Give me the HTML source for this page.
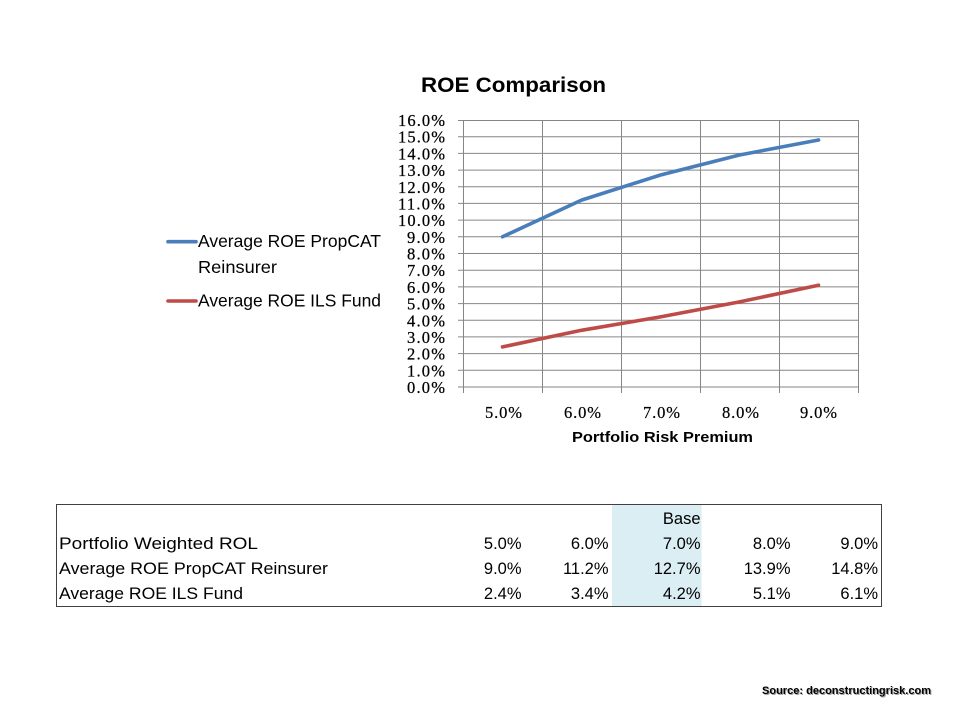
<!DOCTYPE html>
<html>
<head>
<meta charset="utf-8">
<style>
  html, body { margin:0; padding:0; background:#ffffff; }
  svg { display:block; }
</style>
</head>
<body>
<svg width="960" height="720" viewBox="0 0 960 720" xmlns="http://www.w3.org/2000/svg">
  <rect x="0" y="0" width="960" height="720" fill="#ffffff"/>

  <!-- Title -->
  <text x="421" y="92" font-family="Liberation Sans, sans-serif" font-weight="bold" font-size="21" fill="#000" textLength="185" lengthAdjust="spacingAndGlyphs">ROE Comparison</text>

  <!-- Gridlines horizontal (with left tick marks) -->
  <g stroke="#868686" stroke-width="1" fill="none">
    <line x1="458" y1="120.5" x2="858.5" y2="120.5"/>
    <line x1="458" y1="136.7" x2="858.5" y2="136.7"/>
    <line x1="458" y1="153.4" x2="858.5" y2="153.4"/>
    <line x1="458" y1="170.1" x2="858.5" y2="170.1"/>
    <line x1="458" y1="186.8" x2="858.5" y2="186.8"/>
    <line x1="458" y1="203.4" x2="858.5" y2="203.4"/>
    <line x1="458" y1="220.1" x2="858.5" y2="220.1"/>
    <line x1="458" y1="236.8" x2="858.5" y2="236.8"/>
    <line x1="458" y1="253.5" x2="858.5" y2="253.5"/>
    <line x1="458" y1="270.2" x2="858.5" y2="270.2"/>
    <line x1="458" y1="286.9" x2="858.5" y2="286.9"/>
    <line x1="458" y1="303.6" x2="858.5" y2="303.6"/>
    <line x1="458" y1="320.3" x2="858.5" y2="320.3"/>
    <line x1="458" y1="336.9" x2="858.5" y2="336.9"/>
    <line x1="458" y1="353.6" x2="858.5" y2="353.6"/>
    <line x1="458" y1="370.3" x2="858.5" y2="370.3"/>
    <line x1="458" y1="387" x2="858.5" y2="387"/>
    <!-- vertical gridlines extending as ticks -->
    <line x1="463.5" y1="120" x2="463.5" y2="393"/>
    <line x1="542.5" y1="120" x2="542.5" y2="393"/>
    <line x1="621.5" y1="120" x2="621.5" y2="393"/>
    <line x1="700.5" y1="120" x2="700.5" y2="393"/>
    <line x1="779.5" y1="120" x2="779.5" y2="393"/>
    <line x1="858.5" y1="120" x2="858.5" y2="393"/>
  </g>

  <!-- Y axis labels -->
  <g font-family="Liberation Serif, serif" font-size="16.5" fill="#000" stroke="#000" stroke-width="0.25" text-anchor="end" lengthAdjust="spacingAndGlyphs">
    <text x="445" y="126" textLength="47">16.0%</text>
    <text x="445" y="142.7" textLength="47">15.0%</text>
    <text x="445" y="159.4" textLength="47">14.0%</text>
    <text x="445" y="176.1" textLength="47">13.0%</text>
    <text x="445" y="192.8" textLength="47">12.0%</text>
    <text x="445" y="209.4" textLength="47">11.0%</text>
    <text x="445" y="226.1" textLength="47">10.0%</text>
    <text x="445" y="242.8" textLength="38">9.0%</text>
    <text x="445" y="259.5" textLength="38">8.0%</text>
    <text x="445" y="276.2" textLength="38">7.0%</text>
    <text x="445" y="292.9" textLength="38">6.0%</text>
    <text x="445" y="309.6" textLength="38">5.0%</text>
    <text x="445" y="326.3" textLength="38">4.0%</text>
    <text x="445" y="342.9" textLength="38">3.0%</text>
    <text x="445" y="359.6" textLength="38">2.0%</text>
    <text x="445" y="376.3" textLength="38">1.0%</text>
    <text x="445" y="393" textLength="38">0.0%</text>
  </g>

  <!-- X axis labels -->
  <g font-family="Liberation Serif, serif" font-size="16.5" fill="#000" stroke="#000" stroke-width="0.2" lengthAdjust="spacingAndGlyphs">
    <text x="485" y="418" textLength="37">5.0%</text>
    <text x="564" y="418" textLength="37">6.0%</text>
    <text x="643" y="418" textLength="37">7.0%</text>
    <text x="722" y="418" textLength="37">8.0%</text>
    <text x="800" y="418" textLength="37">9.0%</text>
  </g>

  <!-- X axis title -->
  <text x="572" y="442" font-family="Liberation Sans, sans-serif" font-weight="bold" font-size="14.5" fill="#000" textLength="181" lengthAdjust="spacingAndGlyphs">Portfolio Risk Premium</text>

  <!-- Series -->
  <polyline points="502.5,236.8 581.5,200.1 660.5,175 739.5,155 818.5,140" fill="none" stroke="#4a7ebb" stroke-width="3.6" stroke-linejoin="round" stroke-linecap="round"/>
  <polyline points="502.5,346.9 581.5,330.3 660.5,316.9 739.5,301.9 818.5,285.2" fill="none" stroke="#be4b48" stroke-width="3.6" stroke-linejoin="round" stroke-linecap="round"/>

  <!-- Legend -->
  <line x1="168" y1="241.7" x2="196" y2="241.7" stroke="#4a7ebb" stroke-width="3.6" stroke-linecap="round"/>
  <line x1="168" y1="301" x2="196" y2="301" stroke="#be4b48" stroke-width="3.6" stroke-linecap="round"/>
  <g font-family="Liberation Sans, sans-serif" font-size="17.5" fill="#000">
    <text x="198" y="247" textLength="183" lengthAdjust="spacingAndGlyphs">Average ROE PropCAT</text>
    <text x="198" y="273" textLength="79" lengthAdjust="spacingAndGlyphs">Reinsurer</text>
    <text x="198" y="306.5" textLength="183" lengthAdjust="spacingAndGlyphs">Average ROE ILS Fund</text>
  </g>

  <!-- Table -->
  <rect x="612" y="504" width="89.5" height="103" fill="#daeef3"/>
  <g stroke="#404040" stroke-width="1" fill="none">
    <line x1="56" y1="504.5" x2="882" y2="504.5"/>
    <line x1="56" y1="606.5" x2="882" y2="606.5"/>
    <line x1="56.5" y1="504" x2="56.5" y2="607"/>
    <line x1="881.5" y1="504" x2="881.5" y2="607"/>
  </g>
  <g font-family="Liberation Sans, sans-serif" font-size="16.5" fill="#000">
    <text x="59" y="549" textLength="199" lengthAdjust="spacingAndGlyphs">Portfolio Weighted ROL</text>
    <text x="59" y="574" textLength="269" lengthAdjust="spacingAndGlyphs">Average ROE PropCAT Reinsurer</text>
    <text x="59" y="599" textLength="184" lengthAdjust="spacingAndGlyphs">Average ROE ILS Fund</text>
  </g>
  <g font-family="Liberation Sans, sans-serif" font-size="16.5" fill="#000" text-anchor="end">
    <text x="700.5" y="524">Base</text>

    <text x="521.5" y="549">5.0%</text>
    <text x="608.5" y="549">6.0%</text>
    <text x="700.5" y="549">7.0%</text>
    <text x="790.5" y="549">8.0%</text>
    <text x="878" y="549">9.0%</text>

    <text x="521.5" y="574">9.0%</text>
    <text x="608.5" y="574">11.2%</text>
    <text x="700.5" y="574">12.7%</text>
    <text x="790.5" y="574">13.9%</text>
    <text x="878" y="574">14.8%</text>

    <text x="521.5" y="599">2.4%</text>
    <text x="608.5" y="599">3.4%</text>
    <text x="700.5" y="599">4.2%</text>
    <text x="790.5" y="599">5.1%</text>
    <text x="878" y="599">6.1%</text>
  </g>

  <!-- Source -->
  <text x="763" y="695" font-family="Liberation Sans, sans-serif" font-weight="bold" font-size="11" fill="#a0a0a0" textLength="169" lengthAdjust="spacingAndGlyphs">Source: deconstructingrisk.com</text>
  <text x="762" y="694" font-family="Liberation Sans, sans-serif" font-weight="bold" font-size="11" fill="#000" textLength="169" lengthAdjust="spacingAndGlyphs">Source: deconstructingrisk.com</text>
</svg>
</body>
</html>
